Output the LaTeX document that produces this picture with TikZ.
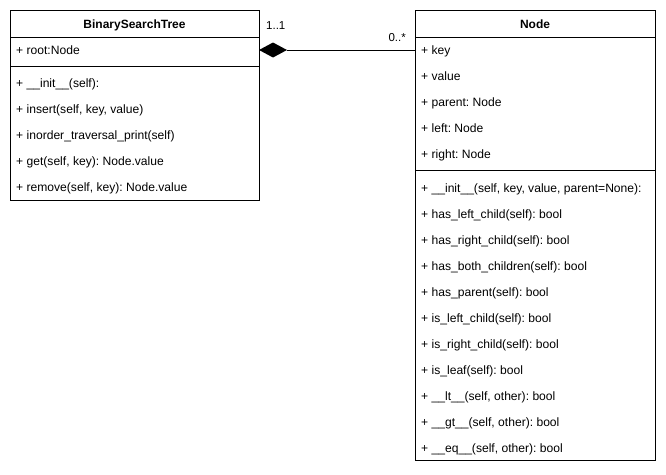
\documentclass[tikz,border=0pt]{standalone}
\usepackage{fontspec}
\setmainfont{Liberation Sans}
\frenchspacing
\begin{document}
\begin{tikzpicture}[x=1pt,y=-1pt,
  box/.style={draw=black,line width=0.8pt,fill=white},
  sep/.style={draw=black,line width=0.8pt},
  item/.style={anchor=base west,inner sep=0pt,font=\fontsize{12.1}{14}\selectfont},
  ttl/.style={anchor=base,inner sep=0pt,font=\fontsize{12}{14}\selectfont\bfseries},
  mult/.style={inner sep=0pt,font=\fontsize{11.5}{13}\selectfont}]
\useasboundingbox (0,0) rectangle (666,474);
% BinarySearchTree
\draw[box] (10,10) rectangle (259,200);
\draw[sep] (10,37) -- (259,37);
\draw[sep] (10,66) -- (259,66);
\node[ttl] (bstt) at (134.5,28.5) {BinarySearchTree};
\node[item] (b1) at (16,54.5) {+ root:Node};
\node[item] (b2) at (16,87.5) {+ \_\_init\_\_(self):};
\node[item] (b3) at (16,113.5) {+ insert(self, key, value)};
\node[item] (b4) at (16,139.5) {+ inorder\_traversal\_print(self)};
\node[item] (b5) at (16,165.5) {+ get(self, key): Node.value};
\node[item] (b6) at (16,191.5) {+ remove(self, key): Node.value};
% Node
\draw[box] (415,10) rectangle (655,460);
\draw[sep] (415,37) -- (655,37);
\draw[sep] (415,170) -- (655,170);
\node[ttl] (nt) at (535,28.5) {Node};
\node[item] (n1) at (421,54) {+ key};
\node[item] (n2) at (421,80) {+ value};
\node[item] (n3) at (421,106) {+ parent: Node};
\node[item] (n4) at (421,132) {+ left: Node};
\node[item] (n5) at (421,158) {+ right: Node};
\node[item] (m1) at (421,192.5) {+ \_\_init\_\_(self, key, value, parent=None):};
\node[item] (m2) at (421,218.5) {+ has\_left\_child(self): bool};
\node[item] (m3) at (421,244.5) {+ has\_right\_child(self): bool};
\node[item] (m4) at (421,270.5) {+ has\_both\_children(self): bool};
\node[item] (m5) at (421,296.5) {+ has\_parent(self): bool};
\node[item] (m6) at (421,322.5) {+ is\_left\_child(self): bool};
\node[item] (m7) at (421,348.5) {+ is\_right\_child(self): bool};
\node[item] (m8) at (421,374.5) {+ is\_leaf(self): bool};
\node[item] (m9) at (421,400.5) {+ \_\_lt\_\_(self, other): bool};
\node[item] (m10) at (421,426.5) {+ \_\_gt\_\_(self, other): bool};
\node[item] (m11) at (421,452.5) {+ \_\_eq\_\_(self, other): bool};
% composition
\coordinate (ca) at (259,50);
\coordinate (cb) at (415,50);
\draw[line width=0.8pt] (287,50) -- (cb);
\fill[black] (ca) -- (273,42.5) -- (287,50) -- (273,57.5) -- cycle;
\node[mult,anchor=base west] (m11l) at (266,29) {1..1};
\node[mult,anchor=base east] (m0s) at (406,41.5) {0..*};
\end{tikzpicture}
\end{document}
